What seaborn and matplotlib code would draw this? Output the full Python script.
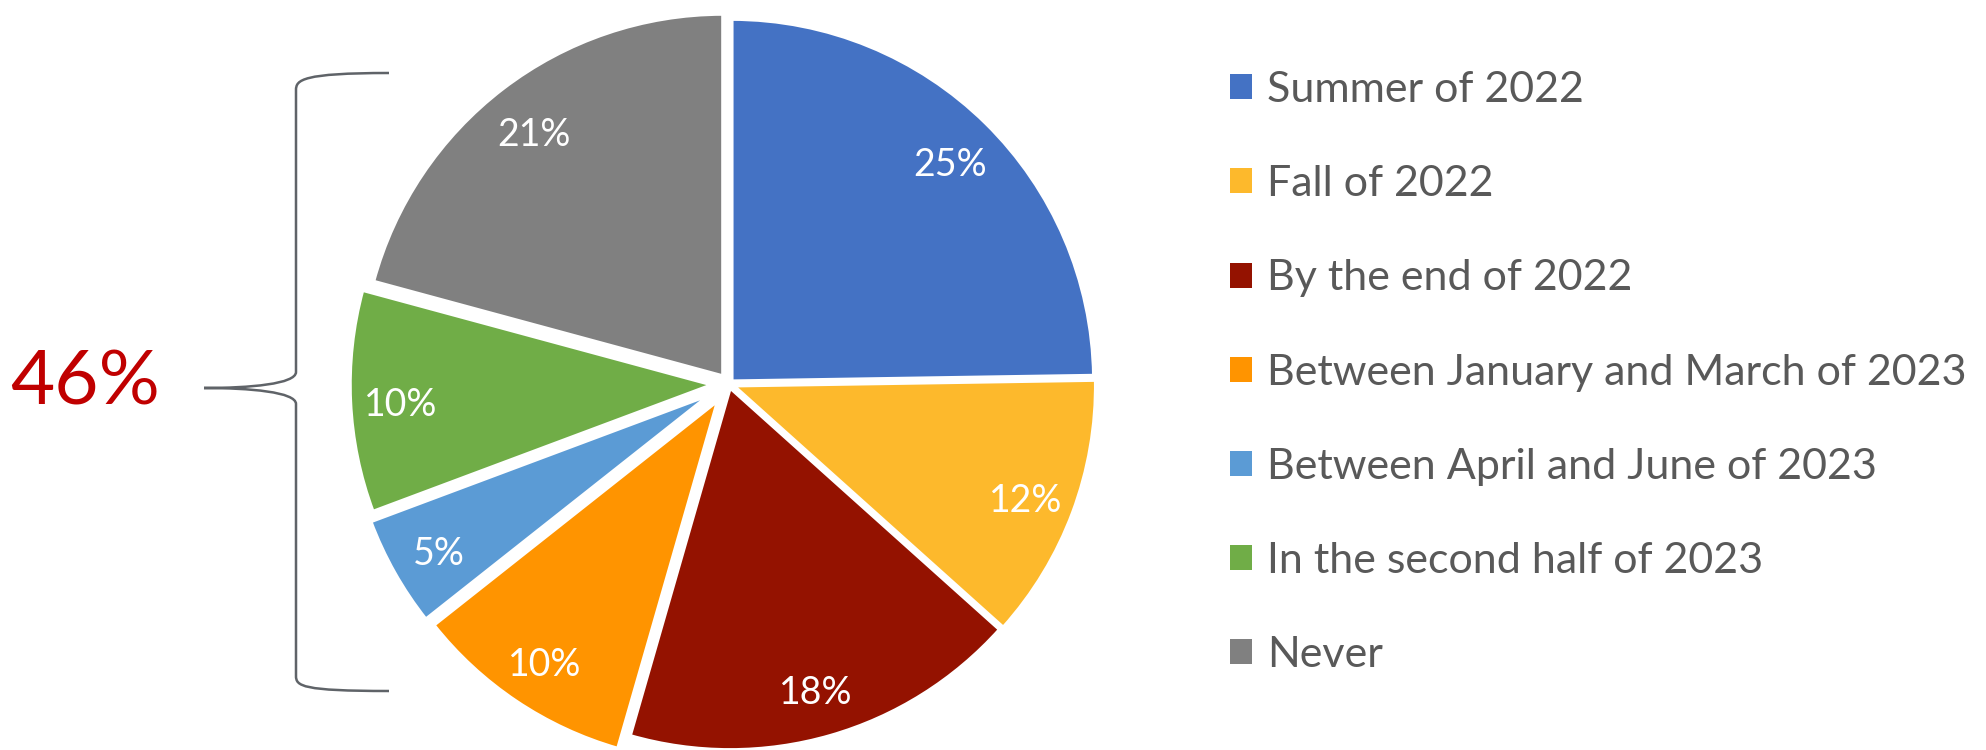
import matplotlib
matplotlib.use("Agg")
import matplotlib.pyplot as plt
from matplotlib.path import Path
from matplotlib.patches import PathPatch
import seaborn as sns

# ---- data ----
categories = ["Summer of 2022", "Fall of 2022", "By the end of 2022",
              "Between January and March of 2023", "Between April and June of 2023",
              "In the second half of 2023", "Never"]
values = [25, 12, 18, 10, 5, 10, 21]
pct_labels = ["25%", "12%", "18%", "10%", "5%", "10%", "21%"]
bracket_label = "46%"

colors = ["#4472C4", "#FDB92C", "#941200", "#FF9400", "#5B9BD5", "#70AD47", "#808080"]
explode_px = [4, 5, 4, 20, 22, 17, 10]

sns.set_theme(style="white")
plt.rcParams['font.family'] = ['Lato', 'DejaVu Sans']

W, H = 1986, 750
fig = plt.figure(figsize=(W / 100, H / 100), dpi=100)
ax = fig.add_axes([0, 0, 1, 1])

palette = sns.color_palette(colors)
center = (729, H - 384)
radius = 362
wedges, texts, autotexts = ax.pie(
    values, colors=palette, startangle=90, counterclock=False,
    explode=explode_px, radius=radius, center=center,
    wedgeprops=dict(edgecolor="white", linewidth=2.5),
    autopct=lambda p: "", pctdistance=0.86,
    textprops=dict(color="white", fontsize=27))
for t, s in zip(autotexts, pct_labels):
    t.set_text(s)
    t.set_color("white")
    t.set_fontsize(27)
    x, y = t.get_position()
    t.set_position((x, y - 6))

ax.set_xlim(0, W)
ax.set_ylim(0, H)
ax.set_aspect("equal")
ax.axis("off")

# brace
def Y(y):
    return H - y
verts = [
    (389, Y(73)), (302, Y(73)), (296, Y(80)), (296, Y(90)),
    (296, Y(372)),
    (296, Y(384)), (250, Y(388)), (204, Y(388)),
    (250, Y(388)), (296, Y(392)), (296, Y(404)),
    (296, Y(676)),
    (296, Y(686)), (302, Y(691)), (389, Y(691)),
]
codes = [Path.MOVETO, Path.CURVE4, Path.CURVE4, Path.CURVE4,
         Path.LINETO,
         Path.CURVE4, Path.CURVE4, Path.CURVE4,
         Path.CURVE4, Path.CURVE4, Path.CURVE4,
         Path.LINETO,
         Path.CURVE4, Path.CURVE4, Path.CURVE4]
ax.add_patch(PathPatch(Path(verts, codes), facecolor="none", edgecolor="#5f6368", linewidth=1.8))

ax.text(85, Y(383), bracket_label, color="#C00000", fontsize=55, ha="center", va="center")

leg = ax.legend(wedges, categories, loc="upper left", bbox_to_anchor=(1230 / W, (H - 71) / H),
                frameon=False, fontsize=31, handlelength=0.52, handleheight=0.52,
                handletextpad=0.35, labelspacing=1.305, borderpad=0, borderaxespad=0)
for t in leg.get_texts():
    t.set_color("#595959")
for h in leg.legend_handles:
    h.set_linewidth(0)

fig.savefig("out.png", dpi=100)
